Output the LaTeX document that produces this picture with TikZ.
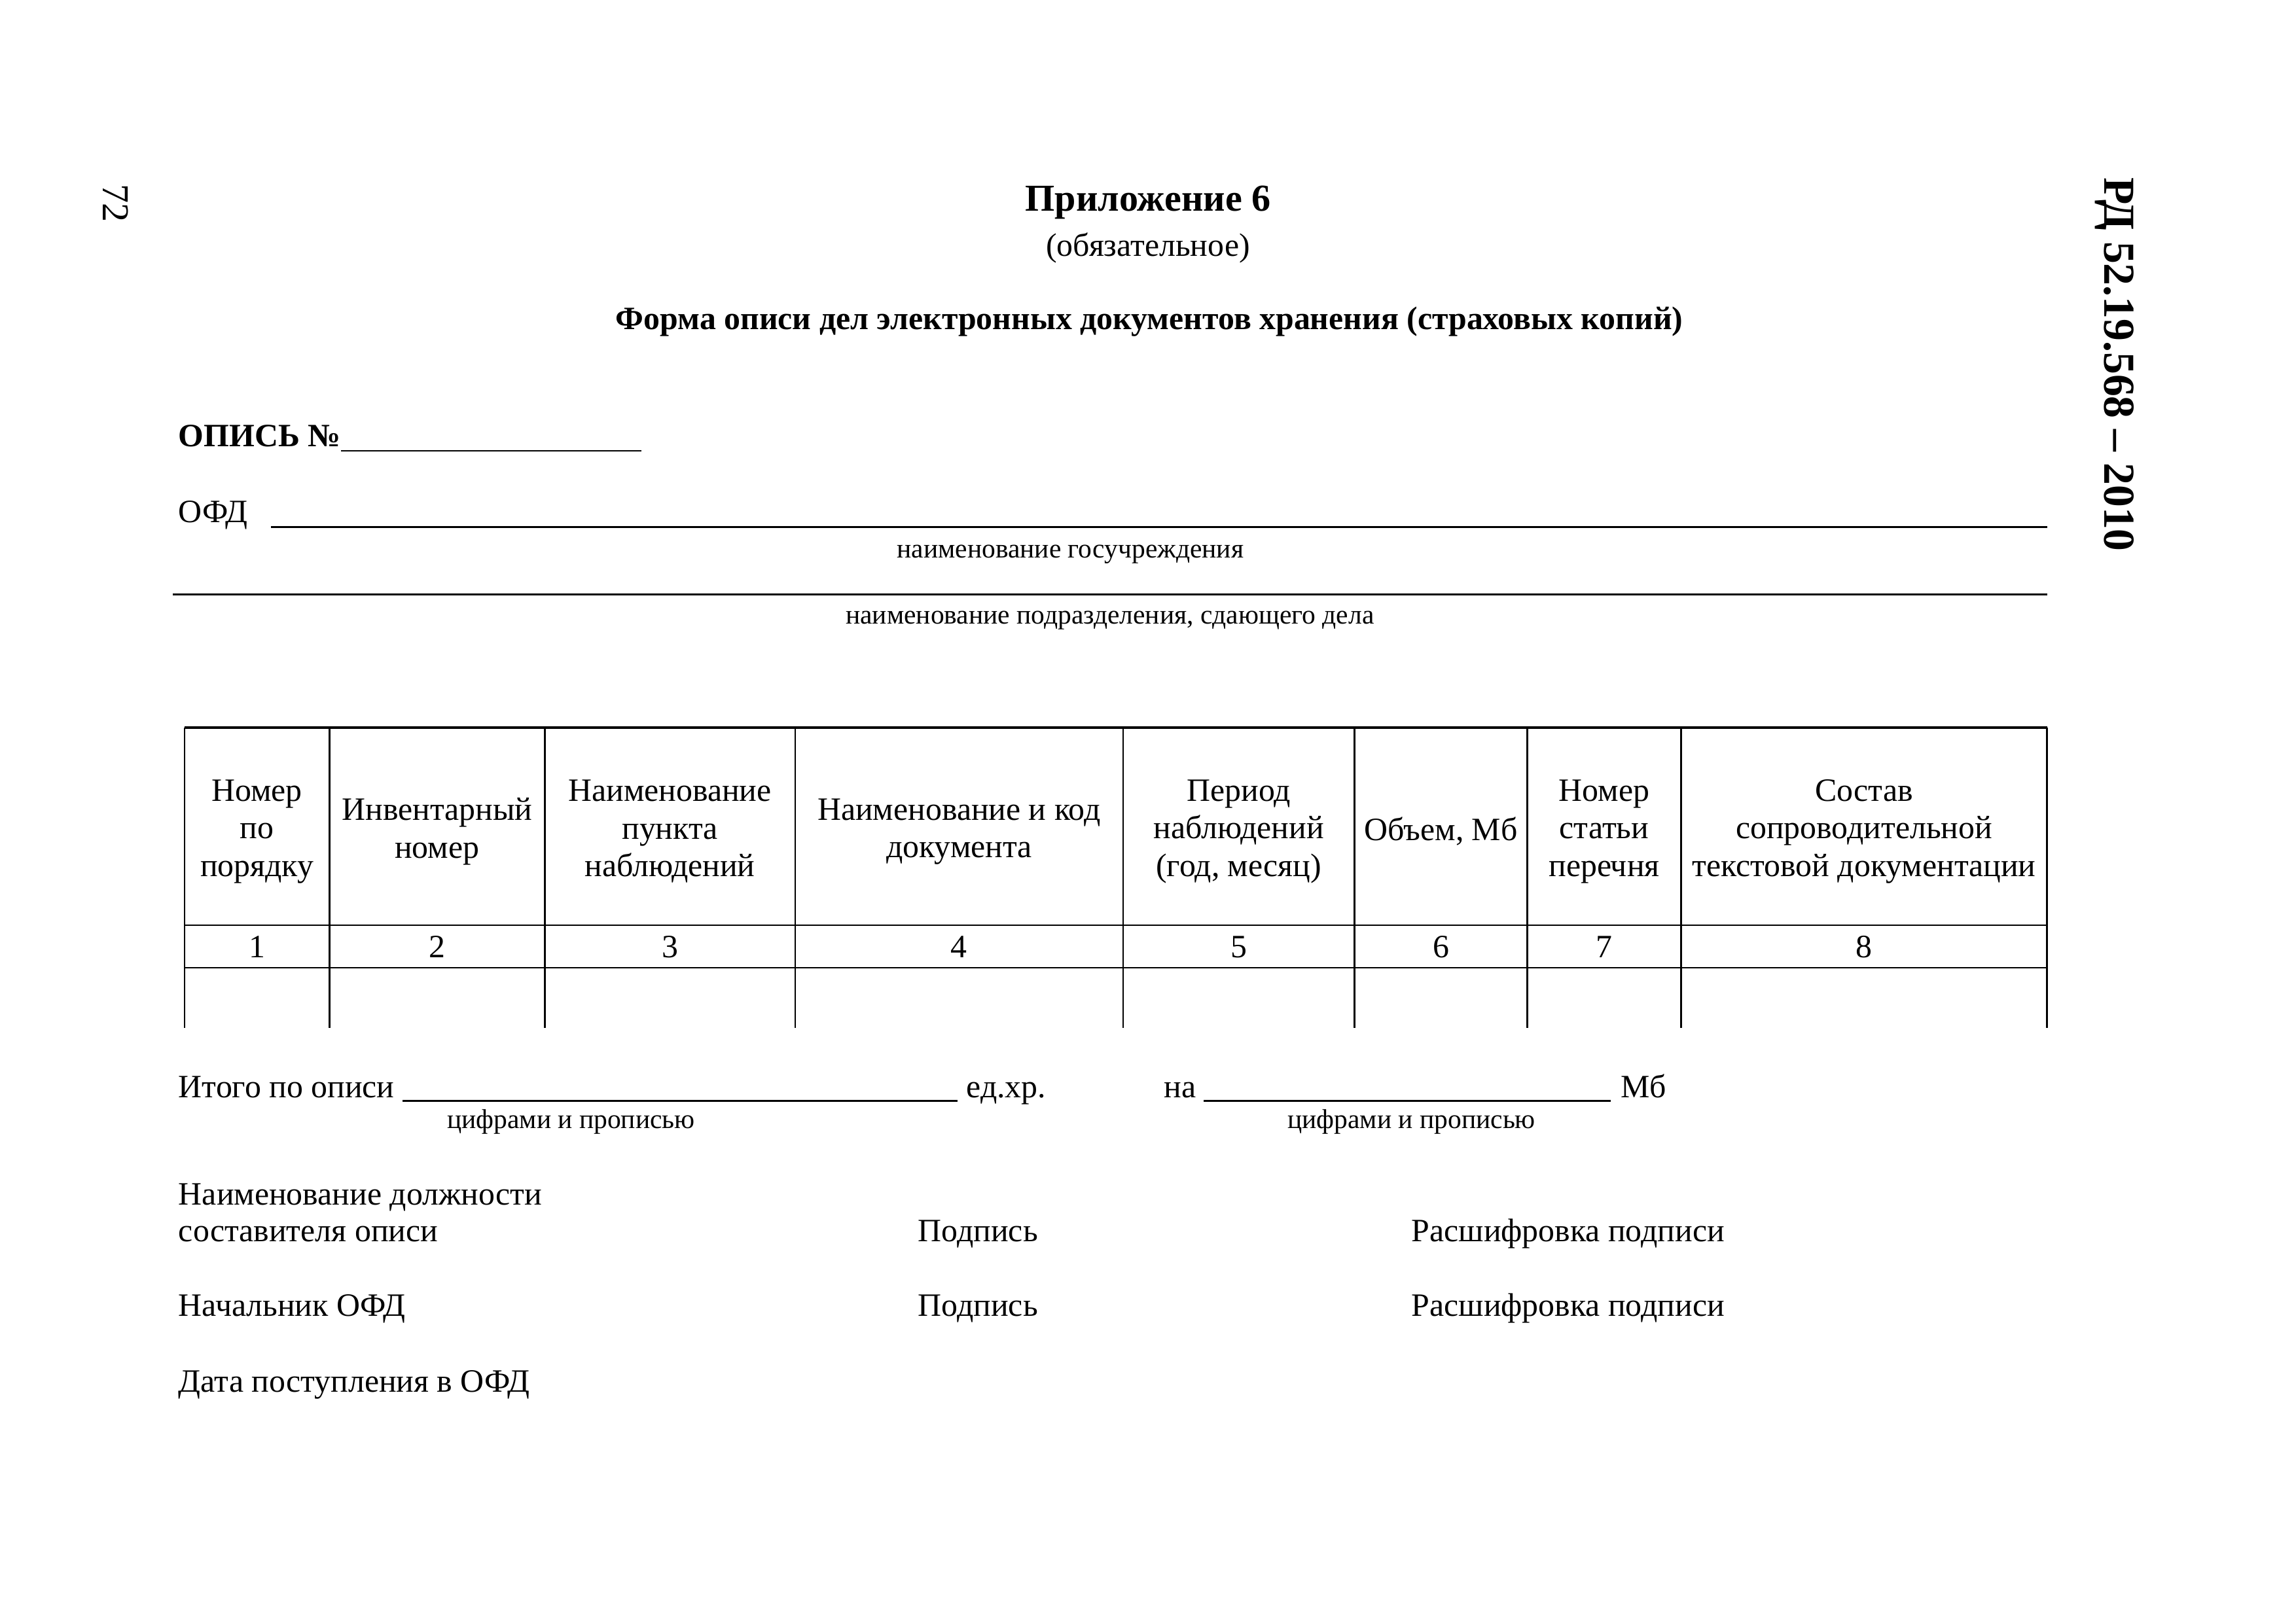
\documentclass[tikz,border=0pt]{standalone}
\usepackage{fontspec}
\setmainfont{Liberation Serif}
\begin{document}
\begin{tikzpicture}[x=0.18941mm,y=-0.18941mm,
  txt/.style={inner sep=0pt, outer sep=0pt, font=\fontsize{12}{13.8}\selectfont},
  smalltxt/.style={inner sep=0pt, outer sep=0pt, font=\fontsize{10}{12}\selectfont},
  boldtxt/.style={inner sep=0pt, outer sep=0pt, font=\fontsize{12}{14}\selectfont\bfseries},
  hdr/.style={txt, align=center},
  rule/.style={line width=0.6pt},
  thickrule/.style={line width=1.1pt},
]
\useasboundingbox (0,0) rectangle (1568,1109);

% margin texts
\node[inner sep=0pt, font=\fontsize{14}{16}\selectfont, rotate=-90] (pagenum) at (79,139) {72};
\node[inner sep=0pt, font=\fontsize{16.3}{18}\selectfont\bfseries, rotate=-90] (docid) at (1444,249) {РД 52.19.568 – 2010};

% titles
\node[inner sep=0pt, font=\fontsize{14}{16}\selectfont\bfseries, anchor=base] (title) at (784,144) {Приложение 6};
\node[txt, anchor=base] (subtitle) at (784,175) {(обязательное)};
\node[boldtxt, anchor=base] (formname) at (785,225) {Форма описи дел электронных документов хранения (страховых копий)};

% header fields
\node[boldtxt, anchor=base west] (opis) at (122,305) {ОПИСЬ №};
\coordinate (opisA) at (233,308); \coordinate (opisB) at (438,308);
\draw[rule] (opisA) -- (opisB);

\node[txt, anchor=base west] (ofd) at (122,357) {ОФД};
\coordinate (ofdA) at (185,360); \coordinate (ofdB) at (1398,360);
\draw[rule] (ofdA) -- (ofdB);
\node[smalltxt, anchor=base] (gos) at (731,381) {наименование госучреждения};

\coordinate (podA) at (118,406); \coordinate (podB) at (1398,406);
\draw[rule] (podA) -- (podB);
\node[smalltxt, anchor=base] (podr) at (758,426) {наименование подразделения, сдающего дела};

% table
\foreach \x [count=\i] in {126,225,372,543,767,925,1043,1148,1398} {
  \coordinate (vt\i) at (\x,497);
  \coordinate (vb\i) at (\x,702);
  \draw[rule] (vt\i) -- (vb\i);
}
\draw[thickrule] (vt1) -- (vt9);
\coordinate (h1a) at (126,632); \coordinate (h1b) at (1398,632);
\coordinate (h2a) at (126,661); \coordinate (h2b) at (1398,661);
\draw[rule] (h1a) -- (h1b);
\draw[rule] (h2a) -- (h2b);

\node[hdr] (c1) at (175.5,568) {Номер\\по\\порядку};
\node[hdr] (c2) at (298.5,568) {Инвентарный\\номер};
\node[hdr] (c3) at (457.5,568) {Наименование\\пункта\\наблюдений};
\node[hdr] (c4) at (655,568) {Наименование и код\\документа};
\node[hdr] (c5) at (846,568) {Период\\наблюдений\\(год, месяц)};
\node[hdr] (c6) at (984,568) {Объем, Мб};
\node[hdr] (c7) at (1095.5,568) {Номер\\статьи\\перечня};
\node[hdr] (c8) at (1273,568) {Состав\\сопроводительной\\текстовой документации};

\foreach \x/\n in {175.5/1,298.5/2,457.5/3,655/4,846/5,984/6,1095.5/7,1273/8} {
  \node[txt, anchor=base] (num\n) at (\x,654) {\n};
}

% totals
\node[txt, anchor=base west] (itogo) at (122,750) {Итого по описи};
\coordinate (itA) at (275,752); \coordinate (itB) at (654,752);
\draw[rule] (itA) -- (itB);
\node[txt, anchor=base west] (edhr) at (660,750) {ед.хр.};
\node[txt, anchor=base west] (na) at (795,750) {на};
\coordinate (naA) at (822,752); \coordinate (naB) at (1100,752);
\draw[rule] (naA) -- (naB);
\node[txt, anchor=base west] (mb) at (1107,750) {Мб};
\node[smalltxt, anchor=base] (cif1) at (390,771) {цифрами и прописью};
\node[smalltxt, anchor=base] (cif2) at (964,771) {цифрами и прописью};

% signatures
\node[txt, anchor=base west] (dolzh) at (122,823) {Наименование должности};
\node[txt, anchor=base west] (sost) at (122,848) {составителя описи};
\node[txt, anchor=base west] (podp1) at (627,848) {Подпись};
\node[txt, anchor=base west] (ras1) at (964,848) {Расшифровка подписи};
\node[txt, anchor=base west] (nach) at (122,899) {Начальник ОФД};
\node[txt, anchor=base west] (podp2) at (627,899) {Подпись};
\node[txt, anchor=base west] (ras2) at (964,899) {Расшифровка подписи};
\node[txt, anchor=base west] (data) at (122,951) {Дата поступления в ОФД};
\end{tikzpicture}
\end{document}
